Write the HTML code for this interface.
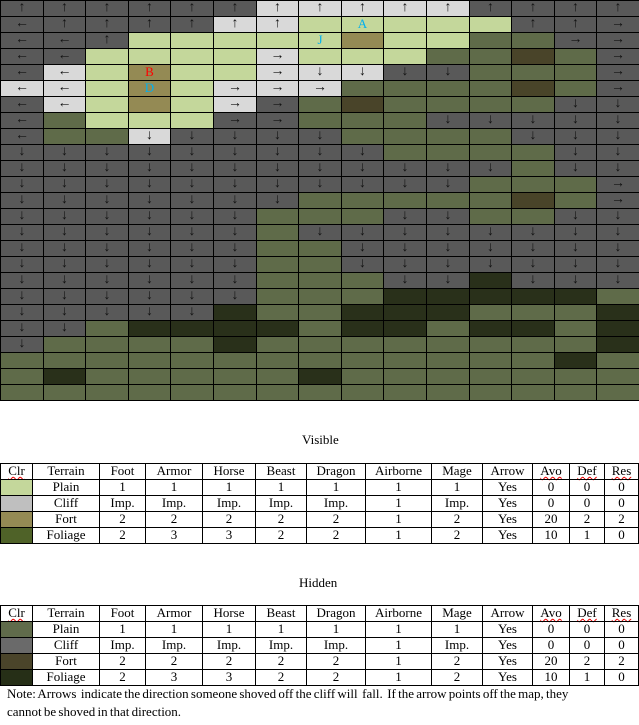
<!DOCTYPE html>
<html><head><meta charset="utf-8">
<style>
body{margin:0;width:639px;height:725px;background:#fff;position:relative;overflow:hidden;font-family:"Liberation Serif",serif;}
.c{position:absolute;box-sizing:border-box;border:1px solid #000;text-align:center;font-size:13px;line-height:14px;color:#000;}
.m{position:absolute;box-sizing:border-box;border:1px solid #000;text-align:center;font-size:14px;line-height:14px;color:#111;}
.t{position:absolute;font-size:13px;color:#000;white-space:nowrap;}
</style></head><body>
<div id="map"></div>
<div class="t" style="left:302px;top:432px">Visible</div>
<div class="t" style="left:299px;top:575px">Hidden</div>
<div class="t" style="left:7px;top:686px;word-spacing:-1px">Note: Arrows&nbsp; indicate the direction someone shoved off the cliff will&nbsp; fall.&nbsp; If the arrow points off the map, they</div>
<div class="t" style="left:7px;top:704px;word-spacing:-1px">cannot be shoved in that direction.</div>
<script>
const rows=[
"D^ D^ D^ D^ D^ D^ L^ L^ L^ L^ L^ D^ D^ D^ D^",
"D< D^ D^ D^ D^ L^ L^ P. PA P. P. P. D^ D^ D>",
"D< D< D^ P. P. P. P. PJ F. P. P. G. G. D> D>",
"D< D< P. P. P. P. L> P. P. P. G. G. H. G. D>",
"D< L< P. FB P. P. L> Lv Lv Dv Dv G. G. G. D>",
"L< L< P. FD P. L> L> L> G. G. G. G. H. G. D>",
"D< L< P. F. P. L> D> G. H. G. G. G. G. Dv Dv",
"D< G. P. P. P. D> D> G. G. G. Dv Dv Dv Dv Dv",
"D< G. G. Lv Dv Dv Dv Dv G. G. G. G. Dv Dv Dv",
"Dv Dv Dv Dv Dv Dv Dv Dv Dv G. G. G. G. Dv Dv",
"Dv Dv Dv Dv Dv Dv Dv Dv Dv Dv Dv Dv G. Dv Dv",
"Dv Dv Dv Dv Dv Dv Dv Dv Dv Dv Dv G. G. G. D>",
"Dv Dv Dv Dv Dv Dv Dv G. G. G. G. G. H. G. D>",
"Dv Dv Dv Dv Dv Dv G. G. G. Dv Dv G. G. Dv Dv",
"Dv Dv Dv Dv Dv Dv G. Dv Dv Dv Dv Dv Dv Dv Dv",
"Dv Dv Dv Dv Dv Dv G. G. Dv Dv Dv Dv Dv Dv Dv",
"Dv Dv Dv Dv Dv Dv G. G. Dv Dv Dv Dv Dv Dv Dv",
"Dv Dv Dv Dv Dv Dv G. G. G. Dv Dv K. Dv Dv Dv",
"Dv Dv Dv Dv Dv Dv G. G. G. K. K. K. K. K. G.",
"Dv Dv Dv Dv Dv K. G. G. K. K. K. G. G. G. K.",
"Dv Dv G. K. K. K. K. G. K. K. G. K. K. G. K.",
"Dv G. G. G. G. K. G. G. G. G. G. G. G. G. K.",
"G. G. G. G. G. G. G. G. G. G. G. G. G. K. G.",
"G. K. G. G. G. G. G. K. G. G. G. G. G. G. G.",
"G. G. G. G. G. G. G. G. G. G. G. G. G. G. G."];
const colors={D:"#595959",L:"#d9d9d9",P:"#c4d79b",F:"#948a54",G:"#5f6b49",H:"#494429",K:"#29301a"};
const names={D:"hidden-cliff",L:"visible-cliff",P:"visible-plain",F:"visible-fort",G:"hidden-plain",H:"hidden-fort",K:"hidden-foliage"};
const arrows={"^":"↑","v":"↓","<":"←",">":"→"};
const map=document.getElementById('map');
const cw=639/15, rh=16;
rows.forEach((r,ri)=>{
  r.split(' ').forEach((code,ci)=>{
    const d=document.createElement('div');
    d.className='m';
    
    
    const x0=Math.round(ci*cw), x1=Math.round((ci+1)*cw);
    d.style.left=x0+'px';d.style.top=(ri*rh)+'px';
    d.style.width=(x1-x0+1)+'px';d.style.height=(rh+1)+'px';
    d.style.background=colors[code[0]];
    const s=code[1];
    if(arrows[s]){d.textContent=arrows[s];}
    else if(s!=='.'){d.textContent=s;d.style.color=(s==='B')?'#ff0000':'#00b0f0';d.style.fontSize='13px';}
    map.appendChild(d);
  });
});
const colX=[0,32,99,145,202,255,306,365,431,482,532,569,604,638];
const header=["Clr","Terrain","Foot","Armor","Horse","Beast","Dragon","Airborne","Mage","Arrow","Avo","Def","Res"];
const body=[["Plain","1","1","1","1","1","1","1","Yes","0","0","0"],
["Cliff","Imp.","Imp.","Imp.","Imp.","Imp.","1","Imp.","Yes","0","0","0"],
["Fort","2","2","2","2","2","1","2","Yes","20","2","2"],
["Foliage","2","3","3","2","2","1","2","Yes","10","1","0"]];
function table(top,sw,prefix){
  for(let r=0;r<5;r++){
    for(let c=0;c<13;c++){
      const d=document.createElement('div');
      d.className='c';
      
      
      d.style.left=colX[c]+'px';d.style.top=(top+r*16)+'px';
      d.style.width=(colX[c+1]-colX[c]+1)+'px';d.style.height='17px';
      if(r===0){d.textContent=header[c];if(c===0||c>=10){d.style.textDecoration='underline wavy #e00';d.style.textDecorationThickness='1px';}}
      else if(c===0){d.style.background=sw[r-1];}
      else d.textContent=body[r-1][c-1];
      document.body.appendChild(d);
    }
  }
}
table(463,["#c4d79b","#bfbfbf","#948a54","#4f6228"],'visible-table');
table(605,["#606b4b","#6a6a6a","#4a442a","#262f17"],'hidden-table');
</script>
</body></html>
